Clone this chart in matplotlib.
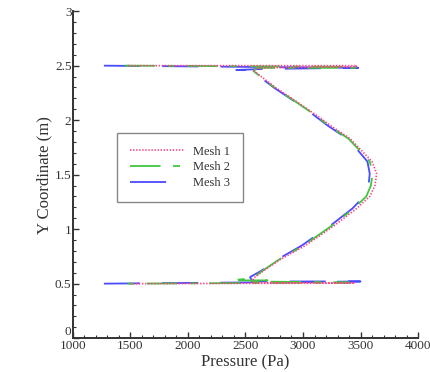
import matplotlib
matplotlib.use("Agg")
import matplotlib.pyplot as plt
from matplotlib.ticker import MultipleLocator

plt.rcParams['font.family'] = ['Liberation Serif', 'DejaVu Serif']
plt.rcParams['lines.scale_dashes'] = False

# ---- data ----
labels = ["Mesh 1", "Mesh 2", "Mesh 3"]

mesh1_p = [1480, 3470, 3460, 2600, 2575, 2760, 2945, 3110, 3240, 3409, 3510, 3600, 3640,
           3625, 3580, 3467, 3293, 3160, 3020, 2800, 2660, 2570, 2560, 3450, 1500]
mesh1_y = [2.50, 2.50, 2.49, 2.48, 2.45, 2.30, 2.17, 2.05, 1.95, 1.83, 1.72, 1.62, 1.51,
           1.40, 1.30, 1.19, 1.05, 0.95, 0.85, 0.72, 0.62, 0.55, 0.51, 0.505, 0.50]

mesh2_p = [1450, 3460, 3450, 2600, 2570, 2750, 2935, 3100, 3225, 3395, 3495, 3580, 3605,
           3590, 3550, 3440, 3275, 3140, 3005, 2790, 2650, 2560, 2380, 2690, 2560, 3400, 1470]
mesh2_y = [2.50, 2.49, 2.48, 2.48, 2.45, 2.30, 2.17, 2.05, 1.95, 1.83, 1.72, 1.62, 1.51,
           1.40, 1.30, 1.19, 1.05, 0.95, 0.85, 0.72, 0.62, 0.55, 0.53, 0.53, 0.52, 0.51, 0.50]

mesh3_p = [1270, 3480, 3470, 2650, 2420, 2550, 2560, 2745, 2930, 3090, 3215, 3385, 3480,
           3560, 3580, 3570, 3530, 3430, 3260, 3125, 2990, 2775, 2640, 2540, 2560, 3500, 1270]
mesh3_y = [2.50, 2.48, 2.48, 2.47, 2.46, 2.46, 2.45, 2.30, 2.17, 2.05, 1.95, 1.83, 1.72,
           1.62, 1.51, 1.40, 1.30, 1.19, 1.05, 0.95, 0.85, 0.72, 0.62, 0.56, 0.52, 0.52, 0.50]

x_ticks = [1000, 1500, 2000, 2500, 3000, 3500, 4000]
y_ticks = [0, 0.5, 1, 1.5, 2, 2.5, 3]
y_tick_labels = ["0", "0.5", "1", "1.5", "2", "2.5", "3"]

# ---- figure ----
fig = plt.figure(figsize=(4.31, 3.72), dpi=100)
ax = fig.add_axes([0.169, 0.091, 0.801, 0.879])

ax.plot(mesh1_p, mesh1_y, color="#ff4088", lw=1.2, linestyle=(0, (1.0, 1.2)),
        label=labels[0], zorder=3.2)
ax.plot(mesh2_p, mesh2_y, color="#3ec83e", lw=1.3, linestyle=(0, (22, 9, 5, 9)),
        label=labels[1], zorder=3.0)
ax.plot(mesh3_p, mesh3_y, color="#4a4aff", lw=1.3, linestyle=(0, (26, 16)),
        label=labels[2], zorder=2.8)

ax.set_xlim(1000, 4000)
ax.set_ylim(0, 3)
ax.set_xticks(x_ticks)
ax.set_yticks(y_ticks)
ax.set_yticklabels(y_tick_labels)
ax.xaxis.set_minor_locator(MultipleLocator(100))
ax.yaxis.set_minor_locator(MultipleLocator(0.1))
ax.tick_params(which="major", direction="in", length=4, width=1, labelsize=9.5,
               colors="#333333", pad=1)
ax.tick_params(which="minor", direction="in", length=2, width=0.8, colors="#333333")
# the reference's "0" sits just above the "1000" label
ax.get_yticklabels()[0].set_verticalalignment("bottom")

for s in ["top", "right"]:
    ax.spines[s].set_visible(False)
for s in ["left", "bottom"]:
    ax.spines[s].set_linewidth(1.4)
    ax.spines[s].set_color("#333333")

ax.set_xlabel("Pressure (Pa)", fontsize=12, labelpad=2, color="#333333")
ax.set_ylabel("Y Coordinate (m)", fontsize=12, labelpad=2, color="#333333")

leg = ax.legend(loc="upper left", bbox_to_anchor=(0.128, 0.627), fontsize=9,
                frameon=True, fancybox=False, framealpha=1, edgecolor="#888888",
                handlelength=4.4, handletextpad=0.7, borderpad=1.0, labelspacing=0.3,
                borderaxespad=0)
leg.get_frame().set_linewidth(1.0)
for t in leg.get_texts():
    t.set_color("#333333")

fig.savefig("out.png", dpi=100)
